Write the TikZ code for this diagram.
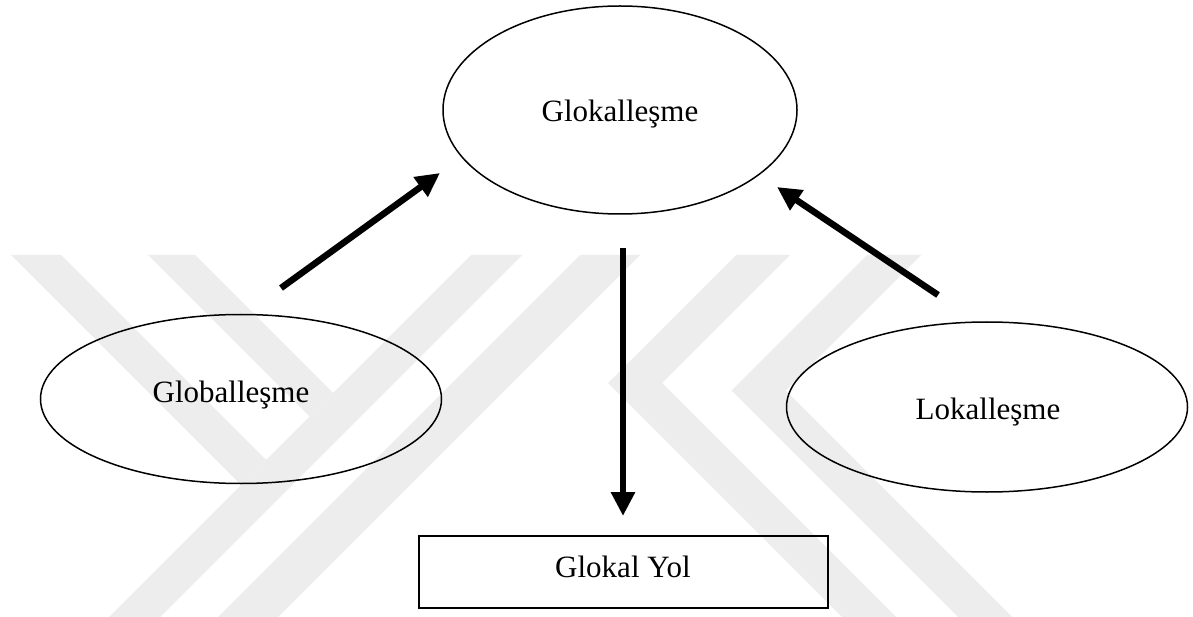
\documentclass[tikz,border=0pt]{standalone}
\usepackage{fontspec}
\setmainfont{Liberation Serif}
\usetikzlibrary{arrows.meta,shapes.geometric}
\definecolor{wmgray}{RGB}{237,237,237}
\begin{document}
\begin{tikzpicture}[x=1pt,y=-1pt,
  bubble/.style={draw,ellipse,line width=1.5pt,inner sep=0pt},
  caption/.style={font=\fontsize{31}{36}\selectfont,inner sep=0pt},
  pathbox/.style={draw,rectangle,line width=1.2pt,inner sep=0pt},
  flow/.style={line width=6.5pt,-{Triangle[width=23pt,length=24pt]}},
  band/.style={fill=wmgray}]
\useasboundingbox (0,0) rectangle (1193,617);
\fill[white] (0,0) rectangle (1193,617);

% faint background emblem made of diagonal bands
\fill[band] (11,255) -- (61,255) -- (266,460) -- (241,485) -- cycle;
\fill[band] (148,255) -- (195,255) -- (333,393) -- (309.5,416.5) -- cycle;
\fill[band] (471,255) -- (522,255) -- (160,617) -- (109,617) -- cycle;
\fill[band] (580,255) -- (640,255) -- (278,617) -- (218,617) -- cycle;
\fill[band] (736,255) -- (790,255) -- (662,383) -- (896,617) -- (842,617) -- (608,383) -- cycle;
\fill[band] (867,255) -- (921,255) -- (785.5,390.5) -- (1012,617) -- (958,617) -- (731.5,390.5) -- cycle;

% concepts
\node[bubble,minimum width=354pt,minimum height=208pt] (glok) at (620,110) {};
\node[bubble,minimum width=401pt,minimum height=169pt] (glob) at (241,399) {};
\node[bubble,minimum width=401pt,minimum height=170pt] (lok) at (987,407) {};
\node[pathbox,minimum width=409pt,minimum height=72pt] (yol) at (623.5,572) {};

\node[caption] (tglok) at (620,114) {Glokalleşme};
\node[caption] (tglob) at (231,395) {Globalleşme};
\node[caption] (tlok) at (988,412) {Lokalleşme};
\node[caption] (tyol) at (623,567) {Glokal Yol};

% arrow ends
\coordinate (globout) at (281,288);
\coordinate (glokinL) at (440,173);
\coordinate (lokout) at (938,295);
\coordinate (glokinR) at (777,187);
\coordinate (glokout) at (623,248);
\coordinate (yolin) at (623,516);

\draw[flow] (globout) -- (glokinL);
\draw[flow] (lokout) -- (glokinR);
\draw[flow] (glokout) -- (yolin);
\end{tikzpicture}
\end{document}
